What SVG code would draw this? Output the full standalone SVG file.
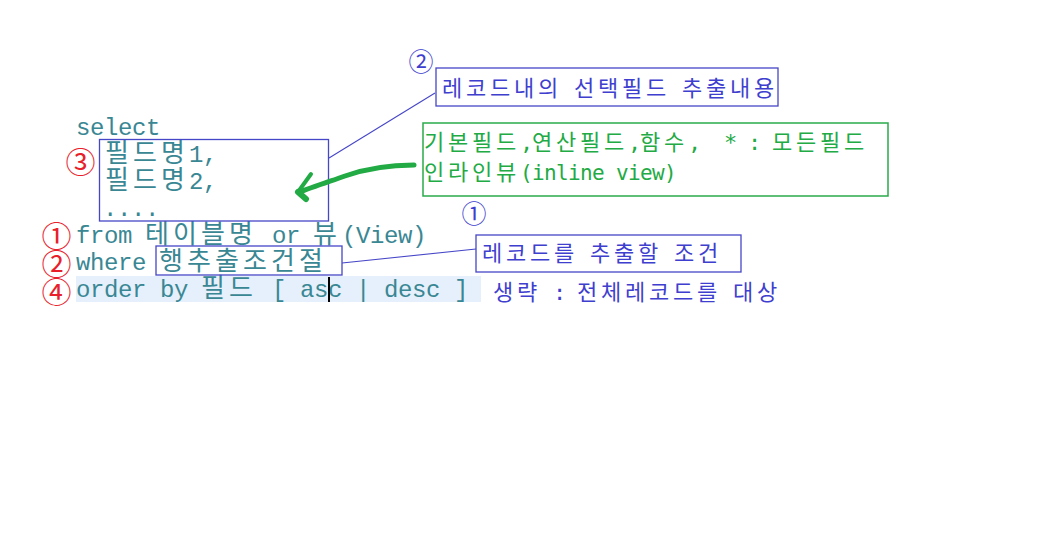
<svg xmlns="http://www.w3.org/2000/svg" width="1051" height="560" viewBox="0 0 1051 560">
<style>
.code{font-family:"Liberation Mono","Noto Sans CJK KR",monospace;font-size:24px;fill:#3a8794}
.code .ko{font-family:"Noto Sans CJK KR",sans-serif;font-size:26px}
.blue{font-family:"DejaVu Sans Mono","Noto Sans CJK KR",monospace;font-size:22px;fill:#3f3fcf}
.green{font-family:"DejaVu Sans Mono","Noto Sans CJK KR",monospace;font-size:22px;fill:#22aa44}
.green .lat{font-size:21px}
.bbox{fill:none;stroke:#4646c8;stroke-width:1.3}
.gbox{fill:none;stroke:#2aaa4a;stroke-width:1.5}
.rnum{font-family:"Noto Sans CJK KR",sans-serif;font-size:30px;fill:#e8202a;text-anchor:middle}
.bnum{font-family:"Noto Sans CJK KR",sans-serif;font-size:25px;fill:#3f3fcf;text-anchor:middle}
.conn{fill:none;stroke:#4646c8;stroke-width:1.1}
.brush{fill:none;stroke:#22aa44;stroke-linecap:round;stroke-linejoin:round}
</style>
<rect width="1051" height="560" fill="#ffffff"/>
<g id="order-highlight">
<rect x="76" y="276" width="405" height="26" fill="#e5f0fc"/>
</g>
<g id="sql-code">
<text class="code" x="76 90 104 118 132 146" y="135">select</text>
<text class="code" y="162"><tspan class="ko" x="105 133 161">필드명</tspan><tspan x="189 203">1,</tspan></text>
<text class="code" y="189"><tspan class="ko" x="105 133 161">필드명</tspan><tspan x="189 203">2,</tspan></text>
<text class="code" x="103 117 131 145" y="216">....</text>
<text class="code" y="243" xml:space="preserve"><tspan x="76 90 104 118 132">from </tspan><tspan class="ko" x="145 173 201 229">테이블명</tspan><tspan x="258 272 286 300"> or </tspan><tspan class="ko" x="313">뷰</tspan><tspan x="342 356 370 384 398 412">(View)</tspan></text>
<text class="code" y="270" xml:space="preserve"><tspan x="76 90 104 118 132 146">where </tspan><tspan class="ko" x="159 187 215 243 271 299">행추출조건절</tspan></text>
<text class="code" y="297" xml:space="preserve"><tspan x="76 90 104 118 132 146 160 174 188">order by </tspan><tspan class="ko" x="201 229">필드</tspan><tspan x="258 272 286 300 314 328 342 356 370 384 398 412 426 440 454"> [ asc | desc ]</tspan></text>
<rect x="328" y="277" width="2" height="25" fill="#000000"/>
</g>
<g id="field-box"><rect class="bbox" x="99.5" y="139.5" width="229" height="81.5"/></g>
<g id="where-box"><rect class="bbox" x="156" y="246" width="186" height="29"/></g>
<g id="step-numbers">
<text class="rnum" x="80.5" y="172.5">③</text>
<text class="rnum" x="56.5" y="246.5">①</text>
<text class="rnum" x="56.5" y="274.5">②</text>
<text class="rnum" x="56.5" y="303">④</text>
</g>
<g id="label-select">
<text class="bnum" x="421" y="71">②</text>
<rect class="bbox" x="436" y="68" width="342" height="38"/>
<text class="blue" y="96" xml:space="preserve" x="442 466 490 514 538 562 574 598 622 646 670 682 706 730 754">레코드내의 선택필드 추출내용</text>
</g>
<g id="note-fields">
<rect class="gbox" x="423" y="123" width="465" height="73"/>
<text class="green" y="150" xml:space="preserve" x="424 448 472 496 520 532 556 580 604 628 640 664 688 700 712 724 736 748 760 772 796 820 844">기본필드,연산필드,함수,  * : 모든필드</text>
<text class="green" y="180" xml:space="preserve"><tspan x="424 448 472 496">인라인뷰</tspan><tspan class="lat" x="520 532 544 556 568 580 592 604 616 628 640 652 664">(inline view)</tspan></text>
</g>
<g id="label-where">
<text class="bnum" x="474" y="222.5">①</text>
<rect class="bbox" x="476" y="235" width="265" height="37"/>
<text class="blue" y="261" xml:space="preserve" x="482 506 530 554 578 590 614 638 662 674 698">레코드를 추출할 조건</text>
</g>
<g id="note-omit">
<text class="blue" y="300" xml:space="preserve" x="493 517 541 553 565 577 601 625 649 673 697 721 733 757">생략 : 전체레코드를 대상</text>
</g>
<g id="connectors">
<line class="conn" x1="329" y1="158" x2="435" y2="93"/>
<line class="conn" x1="342" y1="263" x2="476" y2="249"/>
<path class="brush" stroke-width="5" d="M414,165 C392,165 368,168 345,176 C325,183 310,188 300,192"/>
<path class="brush" stroke-width="4" d="M311,174 L298,192"/>
<path class="brush" stroke-width="6" d="M298,192 L306,199"/>
</g>
</svg>
